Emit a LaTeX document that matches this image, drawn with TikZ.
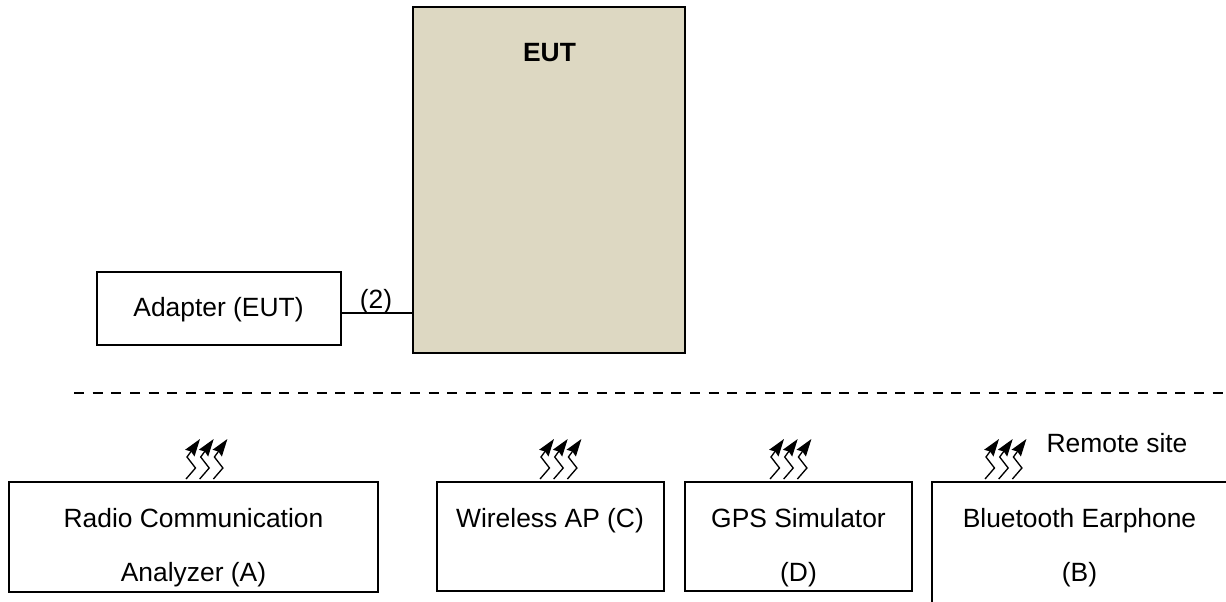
\documentclass[tikz,border=0pt]{standalone}
\usepackage{fontspec}
\setmainfont{Liberation Sans}
\usetikzlibrary{arrows.meta,positioning}
\definecolor{eutfill}{HTML}{DDD8C2}
\tikzset{
	devbox/.style={draw,line width=1.6pt,inner sep=0pt},
	devtext/.style={anchor=base,inner sep=0pt,font=\fontsize{19.8}{24}\selectfont},
	sitewave/.pic={
		\foreach \dx in {0,13.7,27.4}{
			\draw [line width=1pt,-{Stealth[length=13pt,width=8.5pt,inset=1.5pt]}] (\dx,0) -- ++(9.5,-11) -- ++(-8.5,-11) -- ++(13,-18);
		}
	},
}
\begin{document}
\begin{tikzpicture}[x=.75pt,y=-.75pt]
	\useasboundingbox (0,0) rectangle (1226,602);
	% upper part
	\node [devbox,fill=eutfill,minimum width=204pt,minimum height=259.5pt] (eut) at (549,180) {};
	\node [devbox,minimum width=183pt,minimum height=54.75pt] (adapter) at (219,308.5) {};
	\node [devtext,font=\fontsize{19.8}{24}\selectfont\bfseries] (euttxt) at (549.5,62) {EUT};
	\node [devtext] (adaptertxt) at (218.5,316.5) {Adapter (EUT)};
	\node [devtext] (cablenum) at (376,308) {(2)};
	\coordinate (plug) at (380,313);
	\draw [line width=1.6pt] (plug -| adapter.east) -- (plug -| eut.west);
	% separator
	\coordinate (sepl) at (74,393);
	\coordinate (sepr) at (1226,393);
	\draw [line width=1.8pt,dash pattern=on 7.5pt off 6.5pt] (sepl) -- (sepr);
	% lower part
	\node [devbox,minimum width=276.75pt,minimum height=82.5pt] (radio) at (193.5,537) {};
	\node [devbox,minimum width=170.25pt,minimum height=81.75pt] (wifi) at (550.5,536.5) {};
	\node [devbox,minimum width=170.25pt,minimum height=81.75pt] (gps) at (798.5,536.5) {};
	\node [devbox,minimum width=240pt,minimum height=112.5pt] (bt) at (1092,557) {};
	\node [devtext] (radiotxta) at (193.5,527) {Radio Communication};
	\node [devtext] (radiotxtb) at (193.5,581) {Analyzer (A)};
	\node [devtext] (wifitxt) at (550,527) {Wireless AP (C)};
	\node [devtext] (gpstxta) at (798.5,527) {GPS Simulator};
	\node [devtext] (gpstxtb) at (798.5,581) {(D)};
	\node [devtext] (bttxta) at (1079.5,527) {Bluetooth Earphone};
	\node [devtext] (bttxtb) at (1079.5,581) {(B)};
	\node [devtext] (remote) at (1117,452) {Remote site};
	% radio links
	\foreach \wx in {186,540,770,985}{
		\pic at (\wx,479) {sitewave};
	}
\end{tikzpicture}
\end{document}
